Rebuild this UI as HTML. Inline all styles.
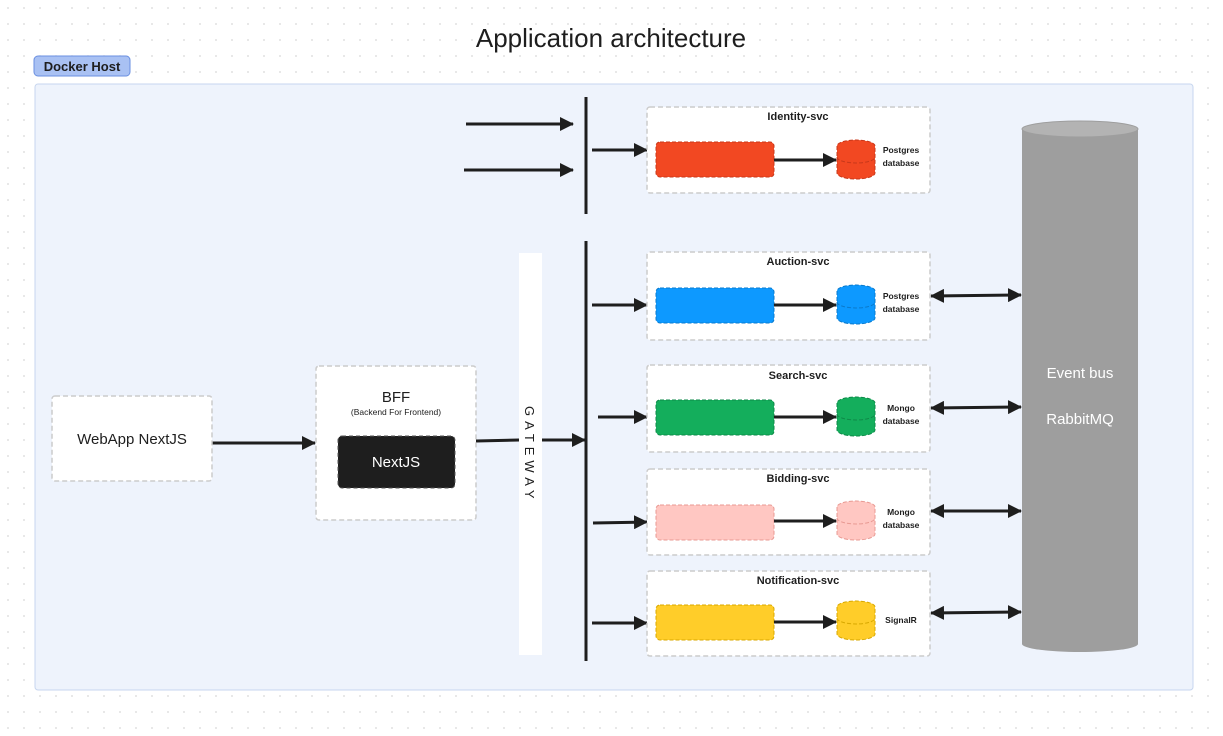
<!DOCTYPE html><html><head><style>body{margin:0;background:#fff}svg{display:block;font-family:"Liberation Sans",Arial,sans-serif}</style></head><body>
<svg width="1223" height="736" viewBox="0 0 1223 736">
<defs>
<pattern id="d" width="16" height="16" patternUnits="userSpaceOnUse"><circle cx="8" cy="8" r="0.9" fill="#d8d8d8"/></pattern>
<marker id="a" markerWidth="14" markerHeight="14" refX="13" refY="7" orient="auto" markerUnits="userSpaceOnUse"><path d="M0,0 L14,7 L0,14z" fill="#1e1e1e"/></marker>
<marker id="b" markerWidth="14" markerHeight="14" refX="1" refY="7" orient="auto" markerUnits="userSpaceOnUse"><path d="M14,0 L0,7 L14,14z" fill="#1e1e1e"/></marker>
</defs>
<rect width="1223" height="736" fill="url(#d)"/>
<text x="611" y="47" font-size="26" text-anchor="middle" fill="#1e1e1e">Application architecture</text>
<rect x="35" y="84" width="1158" height="606" rx="3" fill="#eef3fc" stroke="#c7d6ef"/>
<rect x="34" y="56" width="96" height="20" rx="4" fill="#a9c1f3" stroke="#6a8fe0"/>
<text x="82" y="71" font-size="13" font-weight="bold" text-anchor="middle" fill="#1e1e1e">Docker Host</text>
<g stroke="#1e1e1e" stroke-width="3" fill="none">
<line x1="586" y1="97" x2="586" y2="214"/><line x1="586" y1="241" x2="586" y2="661"/>
<line x1="466" y1="124" x2="573" y2="124" marker-end="url(#a)"/>
<line x1="464" y1="170" x2="573" y2="170" marker-end="url(#a)"/>
<line x1="592" y1="150" x2="647" y2="150" marker-end="url(#a)"/>
<line x1="592" y1="305" x2="647" y2="305" marker-end="url(#a)"/>
<line x1="598" y1="417" x2="647" y2="417" marker-end="url(#a)"/>
<line x1="593" y1="523" x2="647" y2="522" marker-end="url(#a)"/>
<line x1="592" y1="623" x2="647" y2="623" marker-end="url(#a)"/>
<line x1="208" y1="443" x2="315" y2="443" marker-end="url(#a)"/>
<line x1="476" y1="441" x2="519" y2="440"/>
<line x1="542" y1="440" x2="585" y2="440" marker-end="url(#a)"/>
<line x1="931" y1="296" x2="1021" y2="295" marker-start="url(#b)" marker-end="url(#a)"/>
<line x1="931" y1="408" x2="1021" y2="407" marker-start="url(#b)" marker-end="url(#a)"/>
<line x1="931" y1="511" x2="1021" y2="511" marker-start="url(#b)" marker-end="url(#a)"/>
<line x1="931" y1="613" x2="1021" y2="612" marker-start="url(#b)" marker-end="url(#a)"/>
</g>
<rect x="52" y="396" width="160" height="85" rx="3" fill="#fff" stroke="#ccc" stroke-dasharray="5 3" stroke-width="1.5"/>
<text x="132" y="444" font-size="15" text-anchor="middle" fill="#1e1e1e">WebApp NextJS</text>
<rect x="316" y="366" width="160" height="154" rx="3" fill="#fff" stroke="#ccc" stroke-dasharray="5 3" stroke-width="1.5"/>
<text x="396" y="402" font-size="15" text-anchor="middle" fill="#1e1e1e">BFF</text>
<text x="396" y="415" font-size="8.5" text-anchor="middle" fill="#1e1e1e">(Backend For Frontend)</text>
<rect x="338" y="436" width="117" height="52" rx="4" fill="#1e1e1e" stroke="#555" stroke-dasharray="4 3"/>
<text x="396" y="467" font-size="15" text-anchor="middle" fill="#fff">NextJS</text>
<rect x="519" y="253" width="23" height="402" fill="#fff"/>
<text transform="translate(525,406) rotate(90)" font-size="13" letter-spacing="5" fill="#1e1e1e">GATEWAY</text>
<g font-size="11" font-weight="bold" fill="#1e1e1e" text-anchor="middle">
<rect x="647" y="107" width="283" height="86" rx="3" fill="#fff" stroke="#ccc" stroke-dasharray="5 3" stroke-width="1.5"/>
<text x="798" y="120">Identity-svc</text>
<rect x="647" y="252" width="283" height="88" rx="3" fill="#fff" stroke="#ccc" stroke-dasharray="5 3" stroke-width="1.5"/>
<text x="798" y="265">Auction-svc</text>
<rect x="647" y="365" width="283" height="87" rx="3" fill="#fff" stroke="#ccc" stroke-dasharray="5 3" stroke-width="1.5"/>
<text x="798" y="379">Search-svc</text>
<rect x="647" y="469" width="283" height="86" rx="3" fill="#fff" stroke="#ccc" stroke-dasharray="5 3" stroke-width="1.5"/>
<text x="798" y="482">Bidding-svc</text>
<rect x="647" y="571" width="283" height="85" rx="3" fill="#fff" stroke="#ccc" stroke-dasharray="5 3" stroke-width="1.5"/>
<text x="798" y="584">Notification-svc</text>
</g>
<g font-size="8.5" font-weight="bold" fill="#1e1e1e" text-anchor="middle">
<rect x="656" y="142" width="118" height="35" rx="4" fill="#f24822" stroke="#c8381a" stroke-dasharray="4 2"/>
<path d="M837,146 v27 a19,6 0 0 0 38,0 v-27 a19,6 0 0 0 -38,0 z" fill="#f24822" stroke="#c8381a" stroke-dasharray="4 2"/>
<path d="M837,157 a19,6 0 0 0 38,0" fill="none" stroke="#c8381a" stroke-dasharray="4 2"/>
<text x="901" y="153">Postgres</text><text x="901" y="166">database</text>
<rect x="656" y="288" width="118" height="35" rx="4" fill="#0d99ff" stroke="#0a7acc" stroke-dasharray="4 2"/>
<path d="M837,291 v27 a19,6 0 0 0 38,0 v-27 a19,6 0 0 0 -38,0 z" fill="#0d99ff" stroke="#0a7acc" stroke-dasharray="4 2"/>
<path d="M837,302 a19,6 0 0 0 38,0" fill="none" stroke="#0a7acc" stroke-dasharray="4 2"/>
<text x="901" y="299">Postgres</text><text x="901" y="312">database</text>
<rect x="656" y="400" width="118" height="35" rx="4" fill="#14ae5c" stroke="#0e8a48" stroke-dasharray="4 2"/>
<path d="M837,403 v27 a19,6 0 0 0 38,0 v-27 a19,6 0 0 0 -38,0 z" fill="#14ae5c" stroke="#0e8a48" stroke-dasharray="4 2"/>
<path d="M837,414 a19,6 0 0 0 38,0" fill="none" stroke="#0e8a48" stroke-dasharray="4 2"/>
<text x="901" y="411">Mongo</text><text x="901" y="424">database</text>
<rect x="656" y="505" width="118" height="35" rx="4" fill="#ffc7c2" stroke="#e89a93" stroke-dasharray="4 2"/>
<path d="M837,507 v27 a19,6 0 0 0 38,0 v-27 a19,6 0 0 0 -38,0 z" fill="#ffc7c2" stroke="#e89a93" stroke-dasharray="4 2"/>
<path d="M837,518 a19,6 0 0 0 38,0" fill="none" stroke="#e89a93" stroke-dasharray="4 2"/>
<text x="901" y="515">Mongo</text><text x="901" y="528">database</text>
<rect x="656" y="605" width="118" height="35" rx="4" fill="#ffcd29" stroke="#d8a800" stroke-dasharray="4 2"/>
<path d="M837,607 v27 a19,6 0 0 0 38,0 v-27 a19,6 0 0 0 -38,0 z" fill="#ffcd29" stroke="#d8a800" stroke-dasharray="4 2"/>
<path d="M837,618 a19,6 0 0 0 38,0" fill="none" stroke="#d8a800" stroke-dasharray="4 2"/>
<text x="901" y="623">SignalR</text>
</g>
<g stroke="#1e1e1e" stroke-width="3" fill="none">
<line x1="774" y1="160" x2="836" y2="160" marker-end="url(#a)"/>
<line x1="774" y1="305" x2="836" y2="305" marker-end="url(#a)"/>
<line x1="774" y1="417" x2="836" y2="417" marker-end="url(#a)"/>
<line x1="774" y1="521" x2="836" y2="521" marker-end="url(#a)"/>
<line x1="774" y1="622" x2="836" y2="622" marker-end="url(#a)"/>
</g>
<path d="M1022,129 V644 A58,8 0 0 0 1138,644 V129 z" fill="#9e9e9e"/>
<ellipse cx="1080" cy="129" rx="58" ry="8" fill="#b3b3b3" stroke="#9e9e9e"/>
<text x="1080" y="378" font-size="15" text-anchor="middle" fill="#fff">Event bus</text>
<text x="1080" y="424" font-size="15" text-anchor="middle" fill="#fff">RabbitMQ</text>
</svg>
</body></html>
